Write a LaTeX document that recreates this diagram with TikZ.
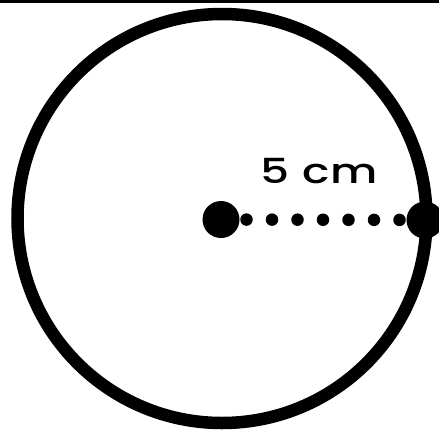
\documentclass[tikz,border=0pt]{standalone}
\usepackage{fontspec}
\newfontfamily\lblfont{Poppins}[UprightFont={* Medium}, FakeStretch=1.32, LetterSpace=3]
\usetikzlibrary{calc,backgrounds}

\begin{document}
\begin{tikzpicture}[x=1pt, y=-1pt]
  \tikzstyle{bigdot}=[circle, fill=black, inner sep=0pt, minimum size=37pt]
  \tikzstyle{rimline}=[circle, draw=black, line width=12.5pt, inner sep=0pt, minimum size=409pt]
  \useasboundingbox (0,0) rectangle (439,432);
  \fill[black] (0,0) rectangle (439,3);
  \node[rimline] (rim) at (222,218.5) {};
  \node[bigdot] (o) at (221,219.5) {};
  \node[bigdot] (e) at (425,220) {};
  \node[anchor=base, font=\lblfont\fontsize{34.5}{38}\selectfont] (lbl) at (319.2,183.3) {5 cm};
  \begin{scope}[on background layer]
    \draw[line width=12.5pt, line cap=round, dash pattern=on 0pt off 25.5pt] (o.center) -- (e.center);
  \end{scope}
\end{tikzpicture}
\end{document}
